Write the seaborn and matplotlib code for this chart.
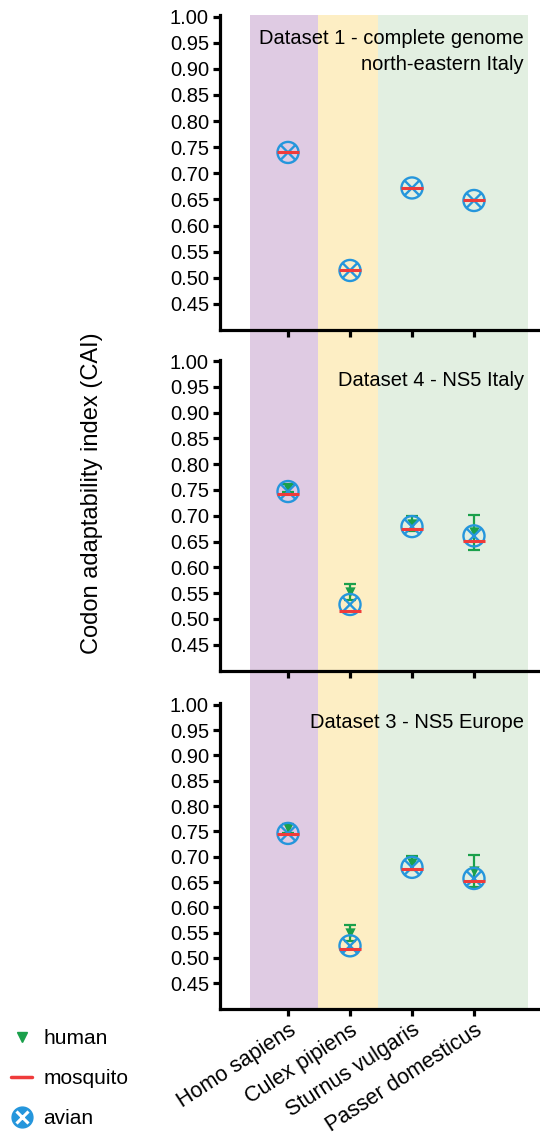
import numpy as np
import pandas as pd
import seaborn as sns
import matplotlib.pyplot as plt
import matplotlib.transforms as mtransforms
from matplotlib.path import Path
from matplotlib.lines import Line2D

species = ["Homo sapiens", "Culex pipiens", "Sturnus vulgaris", "Passer domesticus"]
titles = ["Dataset 1 - complete genome\nnorth-eastern Italy",
          "Dataset 4 - NS5 Italy",
          "Dataset 3 - NS5 Europe"]

# values (one list per dataset)
avian = [[0.740, 0.514, 0.672, 0.648],
         [0.747, 0.528, 0.679, 0.661],
         [0.746, 0.524, 0.679, 0.657]]
mosquito = [[0.740, 0.514, 0.672, 0.648],
            [0.743, 0.516, 0.675, 0.652],
            [0.745, 0.518, 0.676, 0.653]]
human = [None,
         [0.754, 0.552, 0.685, 0.668],
         [0.756, 0.550, 0.687, 0.672]]
human_err = [None,
             [0.008, 0.015, 0.015, 0.034],
             [0.009, 0.016, 0.014, 0.031]]

# host groups shaded in the background (x range in category units)
bands = [(-0.61, 0.48, "#DFCBE3"), (0.48, 1.45, "#FDEEC4"), (1.45, 3.87, "#E2EFE1")]

blue = "#2596DC"
red = "#EF3B3B"
green = "#1AA04B"

sns.set_style("ticks")
plt.rcParams['font.family'] = ['Liberation Sans', 'DejaVu Sans']
for k in ["text.color", "axes.labelcolor", "axes.edgecolor", "xtick.color", "ytick.color"]:
    plt.rcParams[k] = "black"

# circle with an x inside
circ = Path.unit_circle()
d = np.sqrt(0.5)
cross_circle = Path(np.concatenate([circ.vertices, [[-d, -d], [d, d], [-d, d], [d, -d]]]),
                    np.concatenate([circ.codes, [Path.MOVETO, Path.LINETO, Path.MOVETO, Path.LINETO]]))

W, H = 540, 1137
fig = plt.figure(figsize=(W / 100, H / 100), dpi=100)
xlim = (-1.097, 4.065)
left, width = 220 / W, 320 / W

# background axes for the coloured bands
bg = fig.add_axes([left, 1 - 1008.6 / H, width, (1008.6 - 15) / H], zorder=0)
bg.set_xlim(*xlim)
for x0, x1, c in bands:
    bg.axvspan(x0, x1, color=c, lw=0)
bg.axis("off")

panels = [(330.0, 15.1), (670.5, 359.5), (1008.6, 703.3)]
pos = np.arange(len(species))

for i, (bot, top) in enumerate(panels):
    ax = fig.add_axes([left, 1 - bot / H, width, (bot - top) / H], zorder=1)
    ax.set_facecolor("none")
    df = pd.DataFrame({"pos": pos, "avian": avian[i], "mosquito": mosquito[i]})
    if human[i] is not None:
        df["human"] = human[i]
        ax.errorbar(df["pos"], df["human"], yerr=human_err[i], fmt="none",
                    ecolor=green, elinewidth=1.6, capsize=4, capthick=1.6, zorder=3)
        sns.scatterplot(data=df, x="pos", y="human", ax=ax, marker="v", s=55,
                        color=green, edgecolor=green, linewidth=0, zorder=4)
    sns.scatterplot(data=df, x="pos", y="avian", ax=ax, marker=cross_circle, s=230,
                    color=blue, facecolor="none", edgecolor=blue, linewidth=1.7, zorder=5)
    sns.scatterplot(data=df, x="pos", y="mosquito", ax=ax, marker="_", s=230,
                    color=red, linewidth=2.2, zorder=6)
    ax.set_xlim(*xlim)
    ax.set_ylim(0.40, 1.003)
    ax.set_yticks(np.arange(0.45, 1.001, 0.05))
    ax.set_yticklabels([f"{v:.2f}" for v in np.arange(0.45, 1.001, 0.05)])
    ax.set_xticks(pos)
    if i == 2:
        ax.set_xticklabels(species, rotation=33, ha="right", va="top",
                           rotation_mode="anchor", fontsize=15.5)
        shift = mtransforms.ScaledTranslation(5 / 100, 0, fig.dpi_scale_trans)
        for lab in ax.get_xticklabels():
            lab.set_transform(lab.get_transform() + shift)
    else:
        ax.set_xticklabels([])
    ax.set_xlabel("")
    ax.set_ylabel("")
    sns.despine(ax=ax)
    for s in ["left", "bottom"]:
        ax.spines[s].set_linewidth(2.3)
        ax.spines[s].set_color("black")
    ax.tick_params(axis="y", labelsize=14.5)
    ax.tick_params(width=2.3, length=5, color="black", labelcolor="black", pad=3)

fig.text(524 / W, 1 - 38 / H, "Dataset 1 - complete genome", ha="right", va="center", fontsize=14.5)
fig.text(524 / W, 1 - 64 / H, "north-eastern Italy", ha="right", va="center", fontsize=14.5)
fig.text(524 / W, 1 - 381 / H, titles[1], ha="right", va="center", fontsize=14.5)
fig.text(524 / W, 1 - 722 / H, titles[2], ha="right", va="center", fontsize=14.5)

fig.text(92 / W, 1 - 493 / H, "Codon adaptability index (CAI)", rotation=90,
         ha="center", va="center", fontsize=17)

handles = [
    Line2D([], [], ls="none", marker="v", color=green, markersize=7),
    Line2D([], [], color=red, lw=2.5),
    (Line2D([], [], ls="none", marker="o", color=blue, markersize=15),
     Line2D([], [], ls="none", marker="x", color="white", markersize=8, mew=2.2)),
]
fig.legend(handles, ["human", "mosquito", "avian"], loc="upper left",
           bbox_to_anchor=(5 / W, 1 - 1023 / H), frameon=False, fontsize=15,
           handlelength=1.0, handletextpad=0.55, labelspacing=1.0,
           borderaxespad=0, borderpad=0.3)

fig.savefig("out.png", dpi=100)
